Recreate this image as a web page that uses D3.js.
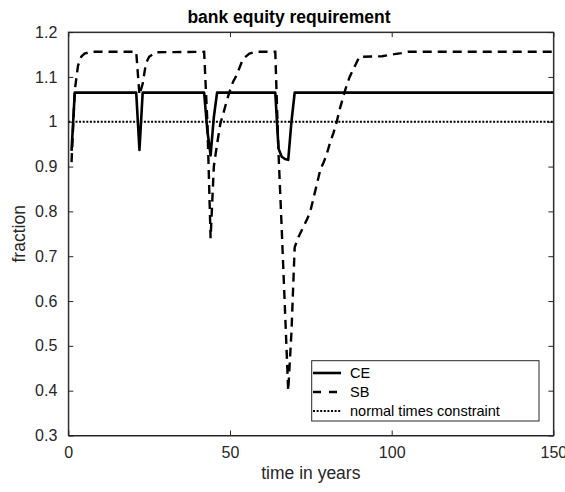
<!DOCTYPE html>
<html>
<head>
<meta charset="utf-8">
<script src="https://cdn.jsdelivr.net/npm/d3@7"></script>
<style>
  html, body { margin: 0; padding: 0; background: #fff; }
  svg { display: block; font-family: "Liberation Sans", Arial, Helvetica, sans-serif; }
</style>
</head>
<body>
<svg id="chart" width="565" height="492"></svg>
<script>
// ---- data ----
const ceYears  = [1, 2, 21, 22, 23, 42, 43, 44, 45, 46, 64, 65, 66, 67, 68, 69, 70, 150];
const ceValues = [0.935, 1.065, 1.065, 0.937, 1.065, 1.065, 0.98, 0.925, 1.01, 1.065,
                  1.065, 0.94, 0.922, 0.917, 0.915, 1.0, 1.065, 1.065];

const sbYears  = [1, 2, 3, 4, 5, 7, 21, 22, 23, 24, 25, 27,
                  42, 43, 44, 45, 46, 47, 48, 49, 50, 51, 52, 54, 56, 58,
                  64, 65, 66, 67, 68, 69, 70, 71, 72, 73, 74, 75, 76, 77, 78, 79, 80,
                  81, 82, 83, 84, 85, 86, 87, 88, 89, 90, 97, 100, 103, 105, 150];
const sbValues = [0.91, 1.07, 1.125, 1.145, 1.152, 1.156, 1.156, 1.06, 1.085, 1.13, 1.145, 1.155,
                  1.156, 1.0, 0.74, 0.90, 0.95, 0.995, 1.02, 1.047, 1.07, 1.09, 1.103, 1.14, 1.152, 1.156,
                  1.156, 0.93, 0.76, 0.58, 0.40, 0.53, 0.72, 0.74, 0.755, 0.77, 0.785, 0.805, 0.835, 0.865, 0.895, 0.91, 0.93,
                  0.955, 0.975, 1.0, 1.03, 1.055, 1.08, 1.10, 1.115, 1.13, 1.145, 1.146, 1.15, 1.153, 1.156, 1.156];

const constraintYears  = [0, 150];
const constraintValues = [1, 1];

const xTicks = [0, 50, 100, 150];
const xTickLabels = ["0", "50", "100", "150"];
const yTicks = [0.3, 0.4, 0.5, 0.6, 0.7, 0.8, 0.9, 1.0, 1.1, 1.2];
const yTickLabels = ["0.3", "0.4", "0.5", "0.6", "0.7", "0.8", "0.9", "1", "1.1", "1.2"];

const seriesNames = ["CE", "SB", "normal times constraint"];
const titleText = "bank equity requirement";
const xLabelText = "time in years";
const yLabelText = "fraction";

// ---- layout ----
const svg = d3.select("#chart");
const L = 68.3, R = 553.4, T = 32.1, B = 435.5;
const axisColor = "#262626";

const x = d3.scaleLinear().domain([0, 150]).range([L, R]);
const y = d3.scaleLinear().domain([0.3, 1.2]).range([B, T]);

// white plot background
svg.append("rect").attr("x", L).attr("y", T).attr("width", R - L).attr("height", B - T).attr("fill", "#fff");

// axes (MATLAB style: inward ticks, box on)
const fmtX = d => xTickLabels[xTicks.indexOf(d)];
const fmtY = d => yTickLabels[yTicks.findIndex(v => Math.abs(v - d) < 1e-9)];

const gBottom = svg.append("g").attr("transform", `translate(0,${B})`)
  .call(d3.axisBottom(x).tickValues(xTicks).tickFormat(fmtX).tickSizeInner(-5).tickSizeOuter(0).tickPadding(11));
const gTop = svg.append("g").attr("transform", `translate(0,${T})`)
  .call(d3.axisTop(x).tickValues(xTicks).tickFormat("").tickSizeInner(-5).tickSizeOuter(0));
const gLeft = svg.append("g").attr("transform", `translate(${L},0)`)
  .call(d3.axisLeft(y).tickValues(yTicks).tickFormat(fmtY).tickSizeInner(-5).tickSizeOuter(0).tickPadding(11));
const gRight = svg.append("g").attr("transform", `translate(${R},0)`)
  .call(d3.axisRight(y).tickValues(yTicks).tickFormat("").tickSizeInner(-5).tickSizeOuter(0));

[gBottom, gTop, gLeft, gRight].forEach(g => {
  g.select(".domain").attr("stroke", axisColor);
  g.selectAll(".tick line").attr("stroke", axisColor);
  g.selectAll(".tick text").attr("fill", axisColor)
    .style("font-size", "16px")
    .style("font-family", "'Liberation Sans', Arial, sans-serif");
});

// lines
const line = d3.line().x(d => x(d[0])).y(d => y(d[1]));

svg.append("path")
  .datum(constraintYears.map((t, i) => [t, constraintValues[i]]))
  .attr("d", line).attr("fill", "none").attr("stroke", "#000")
  .attr("stroke-width", 2).attr("stroke-dasharray", "2,1.6");

svg.append("path")
  .datum(sbYears.map((t, i) => [t, sbValues[i]]))
  .attr("d", line).attr("fill", "none").attr("stroke", "#000")
  .attr("stroke-width", 2.4).attr("stroke-dasharray", "9,6");

svg.append("path")
  .datum(ceYears.map((t, i) => [t, ceValues[i]]))
  .attr("d", line).attr("fill", "none").attr("stroke", "#000")
  .attr("stroke-width", 2.6).attr("stroke-linejoin", "round");

// frame
svg.append("rect").attr("x", L).attr("y", T).attr("width", R - L).attr("height", B - T)
  .attr("fill", "none").attr("stroke", axisColor).attr("stroke-width", 1);

// title & labels
svg.append("text").attr("x", 289).attr("y", 23).attr("text-anchor", "middle")
  .style("font-size", "17.5px").style("font-weight", "bold").attr("fill", "#000").text(titleText);

svg.append("text").attr("x", (L + R) / 2).attr("y", 479).attr("text-anchor", "middle")
  .style("font-size", "17.5px").attr("fill", axisColor).text(xLabelText);

svg.append("text").attr("transform", `translate(25,${(T + B) / 2}) rotate(-90)`).attr("text-anchor", "middle")
  .style("font-size", "17.5px").attr("fill", axisColor).text(yLabelText);

// legend
const lg = svg.append("g");
const lx = 311.7, ly = 360.7, lw = 227.3, lh = 60.3;
lg.append("rect").attr("x", lx).attr("y", ly).attr("width", lw).attr("height", lh)
  .attr("fill", "#fff").attr("stroke", axisColor).attr("stroke-width", 1);
const legendStyles = [
  { w: 2.6, dash: null },
  { w: 2.4, dash: "8,8" },
  { w: 2, dash: "2,1.6" }
];
const rowY = [373, 392, 411];
seriesNames.forEach((name, i) => {
  const s = legendStyles[i];
  const ln = lg.append("line").attr("x1", 313).attr("x2", 341).attr("y1", rowY[i]).attr("y2", rowY[i])
    .attr("stroke", "#000").attr("stroke-width", s.w);
  if (s.dash) ln.attr("stroke-dasharray", s.dash);
  lg.append("text").attr("x", 350).attr("y", rowY[i]).attr("dy", "0.36em")
    .style("font-size", "14.5px").attr("fill", "#000").text(name);
});
</script>
</body>
</html>
